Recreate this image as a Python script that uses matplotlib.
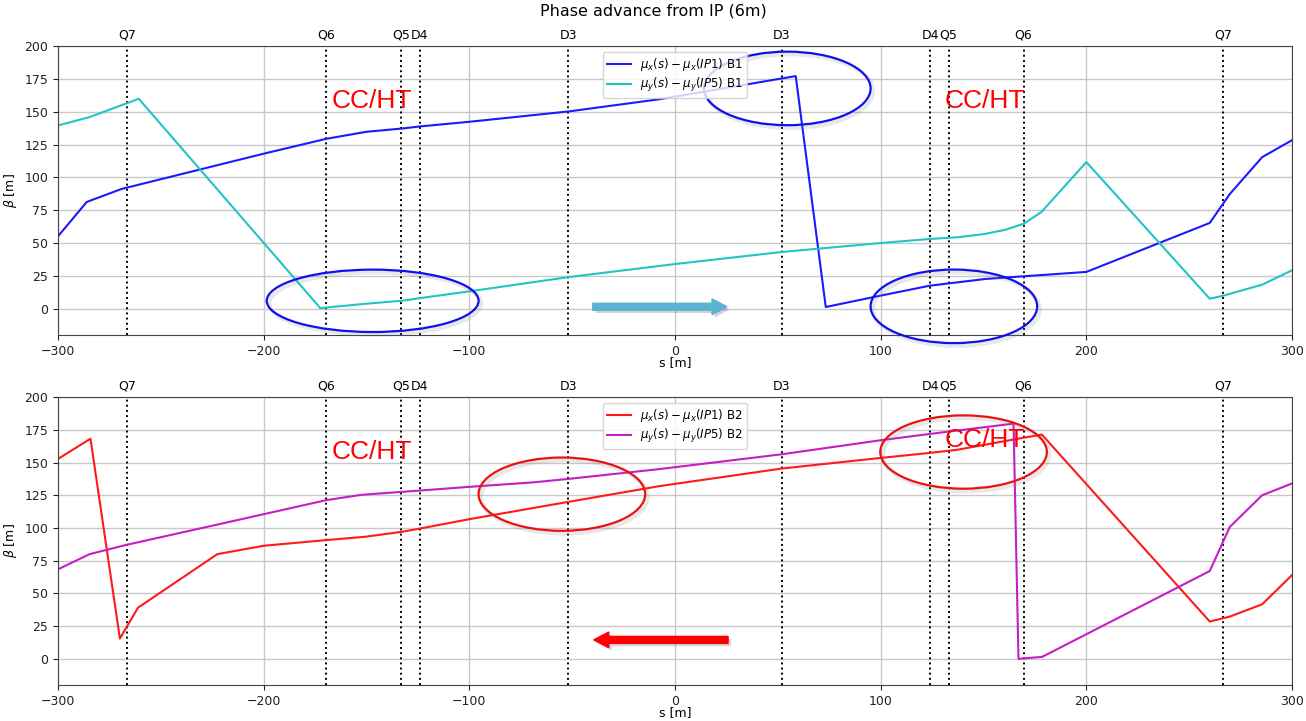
import numpy as np
import matplotlib
matplotlib.use("Agg")
import matplotlib.pyplot as plt
from matplotlib.patches import Ellipse, FancyArrow
import matplotlib.patheffects as pe

# element positions along s [m]
elem_s = [-266.4, -169.5, -133.0, -124.0, -52.0, 52.0, 124.0, 133.0, 169.5, 266.4]
elem_names = ["Q7", "Q6", "Q5", "D4", "D3", "D3", "D4", "Q5", "Q6", "Q7"]

# beam 1
b1x_s = [-300, -286, -269, -200, -169.7, -150, -132.6, -123.8, -100, -51.6, -7.4, 58.7,
         73.3, 99.8, 123.8, 137.5, 150.7, 169.7, 200, 260, 269.8, 285.5, 300]
b1x_mu = [55.1, 81.3, 91.2, 118.0, 129.3, 134.7, 137.2, 138.8, 142.3, 150.2, 159.5, 177.1,
          1.3, 9.9, 17.5, 20.1, 22.6, 24.7, 28.0, 65.3, 87.4, 115.4, 128.3]
b1y_s = [-300, -284.6, -260.7, -172.5, -150, -132.6, -123.8, -100, -51.6, 0, 52, 100,
         123.8, 137.5, 150.7, 160.9, 169.7, 178.2, 200, 260, 266.5, 285.5, 300]
b1y_mu = [139.5, 145.9, 159.8, 0.5, 3.8, 6.1, 8.1, 13.2, 24.1, 34.0, 43.2, 50.0,
          53.1, 54.4, 56.9, 60.2, 64.8, 73.7, 111.6, 7.6, 9.9, 18.3, 29.2]

# beam 2
b2x_s = [-300, -284.2, -269.9, -261.1, -222.5, -200, -169.7, -150.4, -132.6, -123.8, -100,
         -51.6, -7.4, 52, 100, 123.8, 137.5, 169.7, 178.4, 260, 269.8, 285.5, 300]
b2x_mu = [152.7, 168.2, 15.5, 39.1, 80.0, 86.4, 90.7, 93.3, 97.1, 99.6, 106.7,
          120.0, 132.0, 145.4, 153.5, 157.3, 159.8, 169.0, 171.3, 28.5, 32.3, 41.7, 64.0]
b2y_s = [-300, -284.6, -267.2, -200, -169.7, -152.5, -132.6, -123.8, -100, -68.4, -51.6,
         -7.4, 52, 100, 123.8, 164.6, 167, 178.5, 260, 269.8, 285.5, 300]
b2y_mu = [68.4, 80.0, 86.9, 110.5, 121.2, 125.3, 127.6, 128.6, 131.4, 134.9, 137.5,
          145.0, 156.3, 167.0, 171.8, 179.7, 0.0, 1.5, 67.1, 100.9, 125.0, 134.0]

fig = plt.figure(figsize=(13.06, 7.21), dpi=100)
ax1 = fig.add_axes([0.0444, 0.5354, 0.9449, 0.4008])
ax2 = fig.add_axes([0.0444, 0.0499, 0.9449, 0.3994])
fig.suptitle("Phase advance from IP (6m)", y=0.995, fontsize=11.5)

shadow = [pe.SimplePatchShadow(offset=(2, -2), shadow_rgbFace="0.5", alpha=0.35), pe.Normal()]


def setup(ax):
    ax.set_xlim(-300, 300)
    ax.set_ylim(-20, 200)
    ax.set_yticks(np.arange(0, 201, 25))
    ax.set_xticks([-300, -200, -100, 0, 100, 200, 300])
    ax.grid(True, color="#c8c8c8", linewidth=1.0)
    ax.set_axisbelow(True)
    ax.tick_params(labelsize=9, colors="#222222")
    for sp in ax.spines.values():
        sp.set_color("#444444")
    ax.set_xlabel("s [m]", fontsize=9, labelpad=-1)
    ax.set_ylabel(r"$\beta$ [m]", fontsize=9)
    for s in elem_s:
        ax.axvline(s, color="black", linestyle=":", linewidth=1.4)
    top = ax.secondary_xaxis("top")
    top.set_xticks(elem_s)
    top.set_xticklabels(elem_names, fontsize=9)
    top.tick_params(length=0, pad=3)
    top.spines["top"].set_visible(False)


def ellipse(ax, x, y, w, h, color):
    # soft grey offset outline underneath
    ax.add_patch(Ellipse((x + 1.2, y - 2.0), w, h, fill=False, edgecolor="0.5",
                         linewidth=3.0, alpha=0.18, clip_on=False, zorder=4))
    ax.add_patch(Ellipse((x, y), w, h, fill=False, edgecolor=color, linewidth=1.6,
                         clip_on=False, zorder=5))


def cc_ht(ax, x, y):
    ax.text(x, y, "CC/HT", color="red", fontsize=19, family="Liberation Sans",
            ha="left", va="center", zorder=6)


def arrow(ax, x, y, dx, color):
    a = FancyArrow(x, y, dx, 0, width=5.3, head_width=12, head_length=7.3,
                   length_includes_head=False, color=color, zorder=6)
    a.set_path_effects(shadow)
    ax.add_patch(a)


# top: beam 1
setup(ax1)
ax1.plot(b1x_s, b1x_mu, color="#1a1aff", linewidth=1.5, label=r"$\mu_x(s) - \mu_x(IP1)$ B1")
ax1.plot(b1y_s, b1y_mu, color="#22c4c4", linewidth=1.5, label=r"$\mu_y(s) - \mu_y(IP5)$ B1")
ax1.legend(loc="upper center", fontsize=8.5, framealpha=0.8, borderaxespad=0.5,
           labelspacing=0.25, borderpad=0.35, handlelength=2.0)
cc_ht(ax1, -167, 158)
cc_ht(ax1, 131, 158)
ellipse(ax1, -147, 6, 103, 47.5, "#1010ee")
ellipse(ax1, 54.6, 167.7, 81, 56, "#1010ee")
ellipse(ax1, 135.6, 1.8, 81, 56, "#1010ee")
arrow(ax1, -40, 1.5, 58, "#5ab3d1")

# bottom: beam 2
setup(ax2)
ax2.plot(b2x_s, b2x_mu, color="#ff1a1a", linewidth=1.5, label=r"$\mu_x(s) - \mu_x(IP1)$ B2")
ax2.plot(b2y_s, b2y_mu, color="#c41ec4", linewidth=1.5, label=r"$\mu_y(s) - \mu_y(IP5)$ B2")
ax2.legend(loc="upper center", fontsize=8.5, framealpha=0.8, borderaxespad=0.5,
           labelspacing=0.25, borderpad=0.35, handlelength=2.0)
cc_ht(ax2, -167, 158)
cc_ht(ax2, 131, 167)
ellipse(ax2, -55, 125.8, 81, 56, "#ee1010")
ellipse(ax2, 140.3, 158, 81, 56, "#ee1010")
arrow(ax2, 25.8, 14.5, -58, "#ff0000")

fig.savefig("out.png", dpi=100)
plt.close("all")
